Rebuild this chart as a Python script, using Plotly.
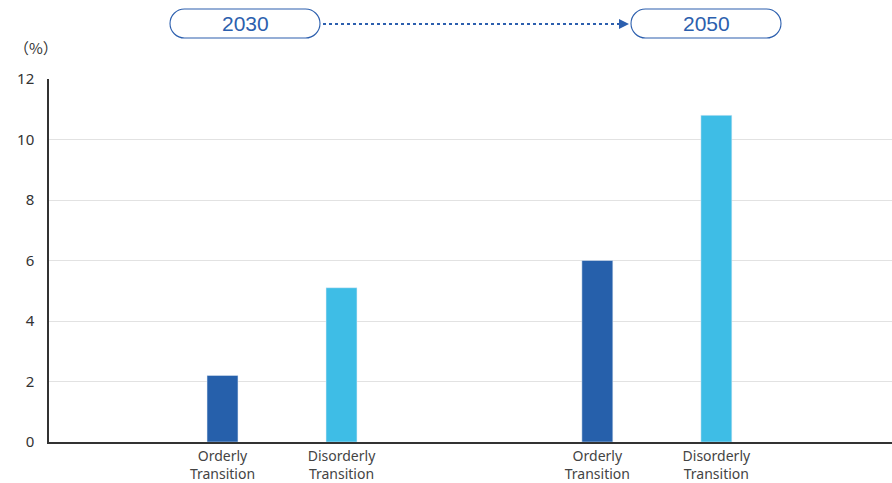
import plotly.graph_objects as go

groups = ["2030", "2050"]
series = ["Orderly Transition", "Disorderly Transition"]
tick_labels = ["Orderly<br>Transition", "Disorderly<br>Transition"]
orderly = [2.2, 6.0]
disorderly = [5.1, 10.8]
colors = ["#2660ab", "#3ebde6"]
yticks = [0, 2, 4, 6, 8, 10, 12]

group_step = 3.15
values = [orderly, disorderly]

fig = go.Figure()
tickvals, ticktext = [], []
for si, name in enumerate(series):
    xs = [gi * group_step + si for gi in range(len(groups))]
    fig.add_trace(go.Bar(x=xs, y=values[si], name=name, marker_color=colors[si],
                         width=0.26, showlegend=False))
    tickvals += xs
    ticktext += [tick_labels[si]] * len(groups)

L, R, T, B = 49, 0, 79, 41
W, H = 892, 483
pw, ph = W - L - R, H - T - B

def px_x(x):
    return (x - L) / pw

def px_y(y):
    return (H - B - y) / ph

blue = "#2c5fae"

def pill(w, h):
    r = h / 2
    hw = w / 2
    a = hw - r
    k = 0.5523 * r
    return (f"M {-a},{-r} L {a},{-r} C {a+k},{-r} {hw},{-k} {hw},0 "
            f"C {hw},{k} {a+k},{r} {a},{r} L {-a},{r} "
            f"C {-a-k},{r} {-hw},{k} {-hw},0 C {-hw},{-k} {-a-k},{-r} {-a},{-r} Z")

shapes = []
annotations = []
box_centers = [245, 706]
for gi, g in enumerate(groups):
    cx = box_centers[gi]
    shapes.append(dict(type="path", xref="paper", yref="paper",
                       xsizemode="pixel", ysizemode="pixel",
                       xanchor=px_x(cx), yanchor=px_y(23.5),
                       path=pill(150, 29),
                       line=dict(color=blue, width=1.1), fillcolor="white"))
    annotations.append(dict(x=px_x(cx), y=px_y(24), xref="paper", yref="paper",
                            xanchor="center", yanchor="middle",
                            text=g, showarrow=False,
                            font=dict(size=21, color=blue, family="Liberation Sans, Arial")))

shapes.append(dict(type="line", xref="paper", yref="paper",
                   x0=px_x(323), x1=px_x(621), y0=px_y(24), y1=px_y(24),
                   line=dict(color=blue, width=2, dash="dot")))
shapes.append(dict(type="path", xref="paper", yref="paper",
                   xsizemode="pixel", ysizemode="pixel",
                   xanchor=px_x(624), yanchor=px_y(24),
                   path="M -5,-5 L 5,0 L -5,5 Z",
                   line=dict(color=blue, width=0), fillcolor=blue))

annotations.append(dict(x=px_x(36), y=px_y(48), xref="paper", yref="paper",
                        xanchor="center", yanchor="middle",
                        text="（%）", showarrow=False,
                        font=dict(size=15, color="#333333",
                                  family="'Noto Sans CJK JP', 'Noto Sans'")))

fig.update_layout(
    width=W, height=H,
    margin=dict(l=L, r=R, t=T, b=B, autoexpand=False),
    plot_bgcolor="white", paper_bgcolor="white",
    font=dict(family="Noto Sans, sans-serif", color="#3a3a3a", size=14),
    shapes=shapes, annotations=annotations,
    xaxis=dict(range=[-1.458, 5.626], tickvals=tickvals, ticktext=ticktext,
               showgrid=False, showline=True, linecolor="#333333", linewidth=1.5,
               zeroline=False, ticks="", ticklabelstandoff=0,
               tickfont=dict(size=14, color="#444444"),
               automargin=False),
    yaxis=dict(range=[0, 12], tickvals=yticks, showgrid=True, gridcolor="#e2e2e2",
               gridwidth=1, showline=True, linecolor="#333333", linewidth=1.5,
               zeroline=False, ticks="", ticklabelstandoff=10,
               tickfont=dict(size=15, color="#333333"), automargin=False),
)

fig.write_html("out.html")
